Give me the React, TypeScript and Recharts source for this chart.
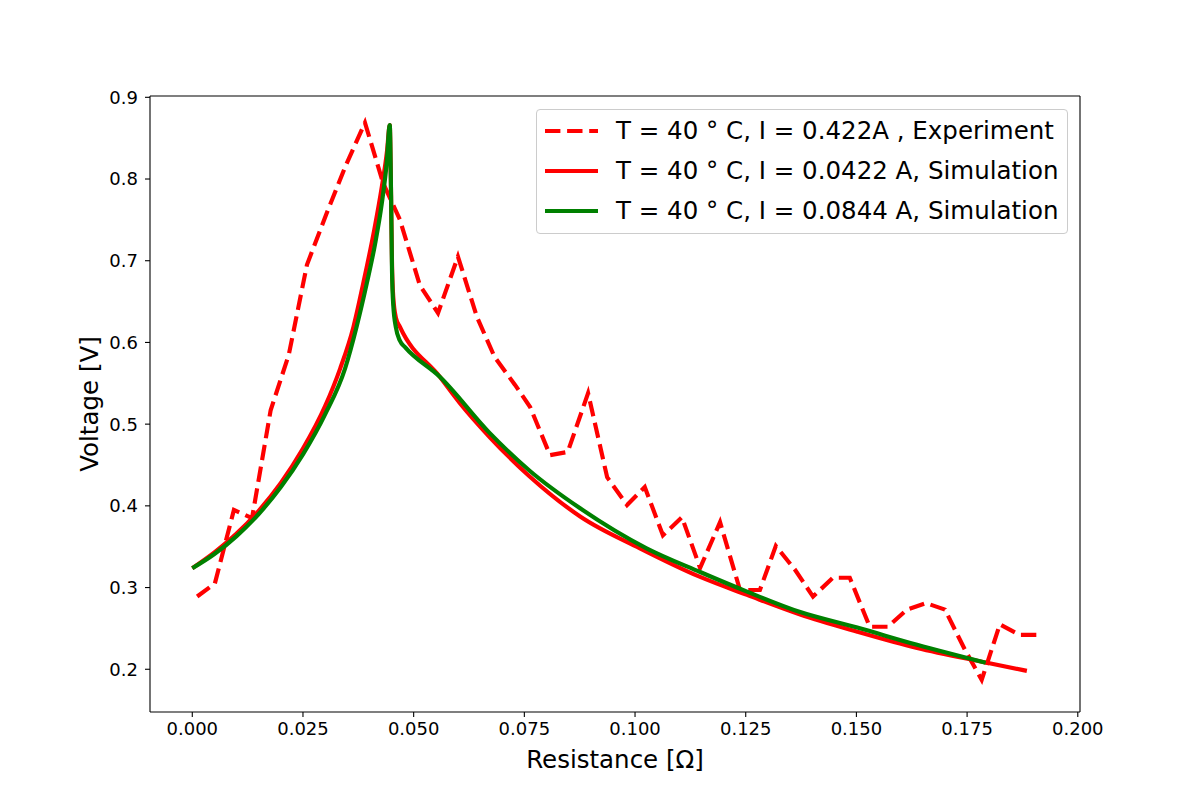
import { LineChart, Line, XAxis, YAxis, Legend, ReferenceLine } from 'recharts';

// Experiment, T = 40 C, I = 0.422 A (dashed red)
const expR = [
  0.0011, 0.0051, 0.0094, 0.0135, 0.0177, 0.0218, 0.0259, 0.0302, 0.0347, 0.0390,
  0.0431, 0.0469, 0.0514, 0.0555, 0.0600, 0.0643, 0.0683, 0.0729, 0.0763, 0.0808,
  0.0848, 0.0894, 0.0937, 0.0982, 0.1022, 0.1063, 0.1106, 0.1147, 0.1192, 0.1237,
  0.1282, 0.1318, 0.1361, 0.1402, 0.1447, 0.1485, 0.1530, 0.1571, 0.1614, 0.1657,
  0.1700, 0.1745, 0.1783, 0.1824, 0.1869, 0.1908,
];
const expV = [
  0.289, 0.305, 0.395, 0.385, 0.517, 0.585, 0.695, 0.756, 0.817, 0.869,
  0.795, 0.750, 0.670, 0.636, 0.705, 0.631, 0.582, 0.548, 0.521, 0.462,
  0.466, 0.538, 0.435, 0.401, 0.423, 0.364, 0.386, 0.324, 0.380, 0.297,
  0.297, 0.351, 0.322, 0.289, 0.312, 0.312, 0.252, 0.252, 0.273, 0.281,
  0.273, 0.224, 0.187, 0.255, 0.242, 0.242,
];

// Simulation, I = 0.0422 A (solid red)
const simAR = [
  0, 0.005, 0.010, 0.015, 0.020, 0.025, 0.030, 0.0334, 0.0364, 0.0386,
  0.0410, 0.0428, 0.0440, 0.0446, 0.0449, 0.0451, 0.0454, 0.0460, 0.0469, 0.0559,
  0.0604, 0.0672, 0.0762, 0.0876, 0.1011, 0.1147, 0.1253, 0.1373, 0.1502, 0.1637,
  0.1795, 0.1885,
];
const simAV = [
  0.3236, 0.343, 0.366, 0.394, 0.428, 0.470, 0.522, 0.568, 0.619, 0.672,
  0.735, 0.790, 0.835, 0.866, 0.780, 0.700, 0.655, 0.630, 0.619, 0.558,
  0.526, 0.484, 0.436, 0.387, 0.348, 0.313, 0.291, 0.267, 0.246, 0.226,
  0.208, 0.198,
];

// Simulation, I = 0.0844 A (solid green)
const simBR = [
  0, 0.005, 0.010, 0.015, 0.020, 0.025, 0.030, 0.0345, 0.0371, 0.0394,
  0.0413, 0.0428, 0.0439, 0.0446, 0.0449, 0.0451, 0.0454, 0.0460, 0.0469, 0.0481,
  0.0559, 0.0672, 0.0762, 0.0876, 0.1026, 0.1147, 0.1253, 0.1373, 0.1502, 0.1637,
  0.1792,
];
const simBV = [
  0.3236, 0.341, 0.363, 0.390, 0.423, 0.463, 0.512, 0.568, 0.619, 0.672,
  0.721, 0.770, 0.819, 0.866, 0.780, 0.690, 0.645, 0.618, 0.602, 0.594,
  0.558, 0.489, 0.443, 0.397, 0.348, 0.319, 0.295, 0.270, 0.251, 0.230,
  0.208,
];

const seriesNames = [
  'T = 40 ° C, I = 0.422A , Experiment',
  'T = 40 ° C, I = 0.0422 A, Simulation',
  'T = 40 ° C, I = 0.0844 A, Simulation',
];

const xTicks = [0, 0.025, 0.05, 0.075, 0.1, 0.125, 0.15, 0.175, 0.2];
const yTicks = [0.2, 0.3, 0.4, 0.5, 0.6, 0.7, 0.8, 0.9];
const xDomain = [-0.00955, 0.2005];
const yDomain = [0.1477, 0.9016];

const toPoints = (xs: number[], ys: number[]) => xs.map((x, i) => ({ x, y: ys[i] }));

const FONT = '"DejaVu Sans", sans-serif';
const LW = 4.17;
const DASH = '15.4 6.7';

const tickStyle = { fontSize: 18, fill: '#000', fontFamily: FONT };
const spine = { stroke: '#000', strokeWidth: 1.1 };

function XTitle({ viewBox }: any) {
  const vb = viewBox ?? { x: 150, y: 712, width: 930, height: 88 };
  return (
    <text x={vb.x + vb.width / 2} y={vb.y + 56} textAnchor="middle" fontSize={24.5} fontFamily={FONT} fill="#000">
      Resistance [Ω]
    </text>
  );
}

function YTitle({ viewBox }: any) {
  const vb = viewBox ?? { x: 0, y: 96, width: 150, height: 616 };
  const cx = 98;
  const cy = vb.y + vb.height / 2;
  return (
    <text x={cx} y={cy} textAnchor="middle" fontSize={24.5} fontFamily={FONT} fill="#000" transform={`rotate(-90 ${cx} ${cy})`}>
      Voltage [V]
    </text>
  );
}

function LegendBox({ payload }: any) {
  // keep plotting order (Recharts sorts legend items by name otherwise)
  const items = [...(payload ?? [])].sort(
    (a: any, b: any) => seriesNames.indexOf(a.value) - seriesNames.indexOf(b.value)
  );
  return (
    <div
      style={{
        boxSizing: 'border-box',
        width: 532,
        height: 125,
        paddingTop: 1,
        border: '1px solid #cccccc',
        borderRadius: 4,
        background: 'rgba(255,255,255,0.8)',
        fontFamily: FONT,
        fontSize: 24.5,
        color: '#000',
      }}
    >
      {items.map((entry: any) => (
        <div key={entry.value} style={{ display: 'flex', alignItems: 'center', height: 40 }}>
          <svg width={53} height={40} style={{ marginLeft: 8, display: 'block' }}>
            <line
              x1={0}
              y1={20}
              x2={53}
              y2={20}
              stroke={entry.color}
              strokeWidth={LW}
              strokeDasharray={entry.payload?.strokeDasharray}
            />
          </svg>
          <span style={{ marginLeft: 18, whiteSpace: 'nowrap', lineHeight: '40px' }}>{entry.value}</span>
        </div>
      ))}
    </div>
  );
}

export default function App() {
  return (
    <div style={{ position: 'absolute', left: 0, top: 0, width: 1200, height: 800, background: '#fff' }}>
      <LineChart width={1200} height={800} margin={{ top: 96, right: 120, bottom: 0, left: 0 }}>
        <XAxis
          dataKey="x"
          type="number"
          domain={xDomain}
          ticks={xTicks}
          allowDataOverflow
          height={88}
          tickFormatter={(v: number) => v.toFixed(3)}
          tick={tickStyle}
          tickSize={5}
          tickMargin={5}
          axisLine={spine}
          tickLine={spine}
          label={<XTitle />}
        />
        <YAxis
          type="number"
          domain={yDomain}
          ticks={yTicks}
          allowDataOverflow
          width={150}
          tickFormatter={(v: number) => v.toFixed(1)}
          tick={tickStyle}
          tickSize={5}
          tickMargin={7}
          axisLine={spine}
          tickLine={spine}
          label={<YTitle />}
        />
        {/* top and right spines */}
        <ReferenceLine x={xDomain[1]} stroke="#000" strokeWidth={1.1} ifOverflow="extendDomain" />
        <ReferenceLine y={yDomain[1]} stroke="#000" strokeWidth={1.1} ifOverflow="extendDomain" />
        <Line
          data={toPoints(expR, expV)}
          dataKey="y"
          name={seriesNames[0]}
          type="linear"
          stroke="#ff0000"
          strokeWidth={LW}
          strokeDasharray={DASH}
          dot={false}
          activeDot={false}
          isAnimationActive={false}
        />
        <Line
          data={toPoints(simAR, simAV)}
          dataKey="y"
          name={seriesNames[1]}
          type="monotone"
          stroke="#ff0000"
          strokeWidth={LW}
          dot={false}
          activeDot={false}
          isAnimationActive={false}
        />
        <Line
          data={toPoints(simBR, simBV)}
          dataKey="y"
          name={seriesNames[2]}
          type="monotone"
          stroke="#008000"
          strokeWidth={LW}
          dot={false}
          activeDot={false}
          isAnimationActive={false}
        />
        <Legend
          layout="vertical"
          align="center"
          verticalAlign="middle"
          content={<LegendBox />}
          wrapperStyle={{ left: 536, top: 109, width: 532, height: 125 }}
        />
      </LineChart>
    </div>
  );
}
